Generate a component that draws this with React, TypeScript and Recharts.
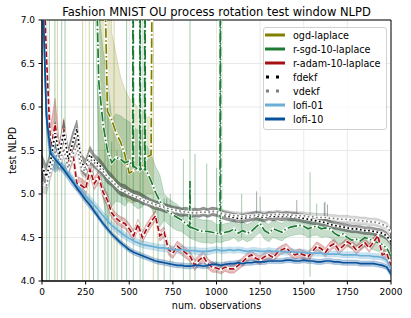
import React from 'react';
import {
  ComposedChart, Line, Area, XAxis, YAxis, CartesianGrid,
  ReferenceLine, ReferenceArea, Legend,
} from 'recharts';

const FONT = '"DejaVu Sans", sans-serif';

// ---------- axes ----------
const xTicks = [0, 250, 500, 750, 1000, 1250, 1500, 1750, 2000];
const yTicks = [4, 4.5, 5, 5.5, 6, 6.5, 7];

// ---------- observation grid (every 25 observations) ----------
const obsGrid = [
  0, 25, 50, 75, 100, 125, 150, 175, 200, 225,
  250, 275, 300, 325, 350, 375, 400, 425, 450, 475,
  500, 525, 550, 575, 600, 625, 650, 675, 700, 725,
  750, 775, 800, 825, 850, 875, 900, 925, 950, 975,
  1000, 1025, 1050, 1075, 1100, 1125, 1150, 1175, 1200, 1225,
  1250, 1275, 1300, 1325, 1350, 1375, 1400, 1425, 1450, 1475,
  1500, 1525, 1550, 1575, 1600, 1625, 1650, 1675, 1700, 1725,
  1750, 1775, 1800, 1825, 1850, 1875, 1900, 1925, 1950, 1975,
  2000,
];

// ---------- series means ----------
const lofi10 = [
  7.6, 5.9, 5.46, 5.4, 5.34, 5.28, 5.21, 5.14, 5.07, 5.0,
  4.93, 4.87, 4.8, 4.73, 4.66, 4.6, 4.54, 4.49, 4.44, 4.4,
  4.36, 4.33, 4.31, 4.29, 4.27, 4.25, 4.23, 4.22, 4.21, 4.2,
  4.19, 4.18, 4.18, 4.17, 4.17, 4.18, 4.18, 4.17, 4.18, 4.19,
  4.19, 4.18, 4.19, 4.2, 4.2, 4.21, 4.2, 4.21, 4.21, 4.22,
  4.22, 4.22, 4.23, 4.23, 4.23, 4.23, 4.24, 4.24, 4.23, 4.23,
  4.24, 4.23, 4.23, 4.22, 4.22, 4.23, 4.23, 4.22, 4.22, 4.21,
  4.21, 4.21, 4.21, 4.2, 4.2, 4.2, 4.2, 4.19, 4.18, 4.16,
  4.08,
];
const lofi01 = [
  7.6, 5.95, 5.5, 5.43, 5.36, 5.3, 5.24, 5.17, 5.1, 5.04,
  4.98, 4.93, 4.87, 4.81, 4.75, 4.69, 4.64, 4.6, 4.56, 4.52,
  4.49, 4.46, 4.44, 4.42, 4.41, 4.4, 4.39, 4.38, 4.38, 4.37,
  4.36, 4.36, 4.36, 4.35, 4.35, 4.35, 4.34, 4.34, 4.34, 4.35,
  4.36, 4.35, 4.35, 4.36, 4.35, 4.36, 4.35, 4.34, 4.35, 4.35,
  4.34, 4.34, 4.35, 4.34, 4.34, 4.34, 4.33, 4.34, 4.33, 4.33,
  4.33, 4.32, 4.32, 4.32, 4.32, 4.31, 4.31, 4.31, 4.31, 4.3,
  4.3, 4.3, 4.3, 4.29, 4.29, 4.29, 4.28, 4.28, 4.27, 4.24,
  4.14,
];
const fdekf = [
  5.32, 5.2, 5.38, 5.7, 5.45, 5.72, 5.4, 5.58, 5.75, 5.36,
  5.3, 5.45, 5.38, 5.34, 5.28, 5.2, 5.16, 5.1, 5.05, 5.04,
  5.01, 4.98, 4.97, 4.94, 4.92, 4.89, 4.87, 4.86, 4.84, 4.83,
  4.81, 4.8, 4.79, 4.8, 4.78, 4.79, 4.78, 4.8, 4.78, 4.8,
  4.79, 4.77, 4.75, 4.74, 4.73, 4.72, 4.72, 4.73, 4.74, 4.75,
  4.74, 4.73, 4.75, 4.74, 4.75, 4.74, 4.75, 4.74, 4.74, 4.73,
  4.72, 4.71, 4.7, 4.69, 4.68, 4.67, 4.65, 4.64, 4.63, 4.62,
  4.61, 4.6, 4.6, 4.59, 4.58, 4.58, 4.57, 4.56, 4.55, 4.52,
  4.45,
];
const vdekf = [
  5.12, 5.1, 5.28, 5.48, 5.35, 5.52, 5.3, 5.45, 5.55, 5.3,
  5.26, 5.4, 5.36, 5.3, 5.26, 5.2, 5.15, 5.1, 5.06, 5.03,
  5.0, 4.98, 4.96, 4.93, 4.91, 4.9, 4.88, 4.86, 4.85, 4.83,
  4.82, 4.81, 4.8, 4.79, 4.79, 4.78, 4.79, 4.79, 4.79, 4.8,
  4.8, 4.78, 4.77, 4.76, 4.75, 4.75, 4.74, 4.75, 4.75, 4.76,
  4.76, 4.75, 4.76, 4.76, 4.77, 4.76, 4.76, 4.76, 4.75, 4.75,
  4.75, 4.74, 4.74, 4.73, 4.73, 4.73, 4.72, 4.72, 4.71, 4.71,
  4.71, 4.7, 4.7, 4.69, 4.69, 4.68, 4.68, 4.67, 4.65, 4.63,
  4.56,
];
const adam = [
  8.0, 6.6, 5.5, 5.8, 5.45, 5.75, 5.35, 5.5, 5.12, 5.1,
  5.06, 5.28, 5.12, 5.2, 5.02, 4.93, 4.78, 4.72, 4.68, 4.66,
  4.6, 4.52, 4.65, 4.5, 4.6, 4.68, 4.75, 4.52, 4.56, 4.36,
  4.32, 4.4, 4.36, 4.32, 4.28, 4.18, 4.24, 4.28, 4.2, 4.16,
  4.15, 4.13, 4.16, 4.14, 4.14, 4.18, 4.22, 4.27, 4.3, 4.26,
  4.24, 4.28, 4.3, 4.27, 4.33, 4.36, 4.38, 4.33, 4.3, 4.32,
  4.3, 4.28, 4.34, 4.4, 4.37, 4.33, 4.4, 4.43, 4.36, 4.4,
  4.45, 4.42, 4.36, 4.4, 4.44, 4.38, 4.45, 4.52, 4.3, 4.32,
  4.18,
];
const sgd = [
  null, null, null, null, null, null, null, null, null, null,
  null, null, 8.5, 6.3, 5.8, 5.5, 5.36, 5.42, 5.4, 5.36,
  5.38, 5.32, 5.28, 5.3, 5.26, 5.15, 5.02, 4.92, 4.85, 4.8,
  4.76, 4.73, 4.7, 4.66, 4.62, 4.6, 4.58, 4.57, 4.57, 4.56,
  4.55, 4.54, 4.56, 4.57, 4.6, 4.55, 4.58, 4.55, 4.57, 4.62,
  4.66, 4.58, 4.55, 4.6, 4.58, 4.56, 4.6, 4.62, 4.63, 4.64,
  4.63, 4.6, 4.62, 4.63, 4.6, 4.61, 4.6, 4.55, 4.52, 4.54,
  4.5, 4.47, 4.48, 4.46, 4.5, 4.48, 4.46, 4.44, 4.42, 4.38,
  4.28,
];

// ---------- band half-widths (one value per 100 observations) ----------
const lofi10Hw = [0.15, 0.05, 0.04, 0.03, 0.03, 0.03, 0.03, 0.03, 0.03, 0.03, 0.03, 0.03, 0.03, 0.03, 0.03, 0.03, 0.03, 0.03, 0.03, 0.03, 0.03];
const lofi01Hw = [0.15, 0.05, 0.05, 0.05, 0.045, 0.04, 0.04, 0.04, 0.04, 0.04, 0.035, 0.035, 0.035, 0.035, 0.035, 0.035, 0.035, 0.035, 0.035, 0.035, 0.035];
const adamHw = [0.3, 0.12, 0.08, 0.07, 0.06, 0.06, 0.06, 0.06, 0.06, 0.06, 0.05, 0.05, 0.05, 0.05, 0.05, 0.05, 0.05, 0.05, 0.05, 0.05, 0.05];
const fdekfHw = [0.13, 0.13, 0.1, 0.08, 0.07, 0.06, 0.05, 0.05, 0.05, 0.05, 0.05, 0.05, 0.05, 0.05, 0.05, 0.05, 0.045, 0.045, 0.045, 0.045, 0.045];
const vdekfHw = [0.1, 0.1, 0.08, 0.07, 0.05, 0.045, 0.045, 0.045, 0.045, 0.045, 0.045, 0.045, 0.045, 0.045, 0.045, 0.045, 0.045, 0.045, 0.045, 0.045, 0.045];
const sgdHw = [0, 0, 0, 0.85, 0.5, 0.45, 0.3, 0.15, 0.13, 0.13, 0.1, 0.1, 0.1, 0.1, 0.1, 0.1, 0.1, 0.1, 0.1, 0.1, 0.1];

// ---------- ogd-laplace (only visible between ~350 and ~635) ----------
const ogdObs = [325, 350, 375, 400, 425, 450, 475, 500, 525, 550, 575, 600, 625, 635];
const ogdMean = [8.5, 8.5, 5.95, 5.85, 5.7, 5.6, 5.45, 5.24, 5.27, 5.3, 5.31, 5.42, 5.45, 9];
const ogdHi = [9, 9, 9, 6.85, 6.6, 6.35, 6.2, 6.1, 6.05, 6.0, 5.95, 5.88, 5.9, 9];
const ogdLo = [5.4, 5.3, 5.2, 5.2, 5.1, 5.0, 4.95, 4.9, 4.9, 4.92, 4.95, 5.0, 5.0, 5.0];

// ---------- r-sgd mean spikes (line shoots off the chart) ----------
const sgdPeakObs = [522, 562, 590, 848, 1022];
const sgdPeakBase = [5.32, 5.28, 5.28, 4.62, 4.54];
const sgdPeakTop = [9, 9, 9, 5.15, 9];

// ---------- band excursions (thin vertical streaks) ----------
const sgdSpikeObs = [27, 42, 74, 113, 132, 295, 321, 361, 378, 399, 430, 457, 485, 523, 562, 579, 665, 700, 735, 810, 848, 877, 944, 1001, 1030, 1144, 1250, 1536, 1574, 1622];
const sgdSpikeLo = [3, 3, 3, 3, 3, 3, 3, 3, 3, 3, 3, 3, 3, 3, 3, 3, 3, 3, 3, 3, 3, 3, 3, 3, 3, 4.5, 4.7, 4.05, 4.74, 4.74];
const sgdSpikeHi = [9, 9, 9, 9, 9, 9, 9, 6.0, 6.0, 5.6, 5.5, 5.6, 9, 9, 9, 9, 5.0, 4.95, 5.0, 5.4, 9, 5.46, 5.35, 5.3, 9, 5.0, 4.97, 5.25, 4.89, 4.91];
const ogdSpikeObs = [88, 233, 271, 413, 638];
const ogdSpikeLo = [3, 3, 3, 3, 3];
const ogdSpikeHi = [9, 9, 9, 9, 9];
const dekfSpikeObs = [715, 1230, 1460, 1618, 1636];
const dekfSpikeLo = [4.78, 4.72, 4.72, 4.7, 4.7];
const dekfSpikeHi = [4.95, 5.03, 4.93, 4.9, 4.88];

const C = {
  ogd: '#808000',
  sgd: '#1e7b34',
  adam: '#a50f15',
  fdekf: '#000000',
  vdekf: '#7f7f7f',
  lofi01: '#6baed6',
  lofi10: '#08519c',
};

const hwAt = (hw: number[], obs: number) => hw[Math.min(hw.length - 1, Math.floor(obs / 100))];
const band = (m: number | null, hw: number[], obs: number) =>
  m == null ? null : [m - hwAt(hw, obs), m + hwAt(hw, obs)];

const rows = obsGrid.map((obs, i) => ({
  obs,
  lofi10: lofi10[i],
  lofi10Band: band(lofi10[i], lofi10Hw, obs),
  lofi01: lofi01[i],
  lofi01Band: band(lofi01[i], lofi01Hw, obs),
  fdekf: fdekf[i],
  fdekfBand: band(fdekf[i], fdekfHw, obs),
  vdekf: vdekf[i],
  vdekfBand: band(vdekf[i], vdekfHw, obs),
  adam: adam[i],
  adamBand: band(adam[i], adamHw, obs),
  sgd: sgd[i],
  sgdBand: band(sgd[i], sgdHw, obs),
}));

const sgdRows = rows.filter((r) => r.sgd != null);
const sgdLineData = [
  ...sgdRows.map((r) => ({ obs: r.obs, v: r.sgd as number })),
  ...sgdPeakObs.flatMap((o, k) => [
    { obs: o - 2, v: sgdPeakBase[k] },
    { obs: o, v: sgdPeakTop[k] },
    { obs: o + 2, v: sgdPeakBase[k] },
  ]),
].sort((a, b) => a.obs - b.obs);

const ogdData = ogdObs.map((obs, i) => ({ obs, mean: ogdMean[i], band: [ogdLo[i], ogdHi[i]] }));

const legendItems = [
  { name: 'ogd-laplace', color: C.ogd, dash: undefined as string | undefined },
  { name: 'r-sgd-10-laplace', color: C.sgd, dash: undefined },
  { name: 'r-adam-10-laplace', color: C.adam, dash: undefined },
  { name: 'fdekf', color: C.fdekf, dash: '3 7' },
  { name: 'vdekf', color: C.vdekf, dash: '3 7' },
  { name: 'lofi-01', color: C.lofi01, dash: undefined },
  { name: 'lofi-10', color: C.lofi10, dash: undefined },
];

function LegendBox() {
  return (
    <svg width={124} height={103} style={{ display: 'block' }}>
      <rect x={0.5} y={0.5} width={123} height={102} rx={2.5} fill="rgba(255,255,255,0.8)" stroke="#d0d0d0" />
      {legendItems.map((it, i) => {
        const y = 8 + i * 14;
        return (
          <g key={it.name}>
            <line x1={it.dash ? 3 : 2} x2={22} y1={y} y2={y} stroke={it.color} strokeWidth={3} strokeDasharray={it.dash} />
            <text x={30} y={y} dominantBaseline="central" fontSize={9.6} fontFamily={FONT} fill="#000">{it.name}</text>
          </g>
        );
      })}
    </svg>
  );
}

const DASHED = '5.5 2.4';
const DASHDOT = '9.6 2.4 1.5 2.4';
const DOTTED = '1.7 2.5';

function lineEls(key: string, dataKey: string, color: string, dash: string | undefined, data?: any[], underlay = true) {
  const common = {
    type: 'linear' as const, dataKey, dot: false, activeDot: false,
    isAnimationActive: false, legendType: 'none' as const, data,
  };
  return [
    underlay ? <Line key={key + '-u'} {...common} stroke="#ffffff" strokeWidth={2.8} /> : null,
    <Line key={key} {...common} stroke={color} strokeWidth={1.7} strokeDasharray={dash} />,
  ];
}

function bandEl(key: string, dataKey: string, color: string, opacity: number, data?: any[]) {
  return (
    <Area key={key} type="linear" dataKey={dataKey} data={data} fill={color} fillOpacity={opacity}
      stroke={color} strokeOpacity={0.35} strokeWidth={0.6} dot={false} activeDot={false}
      isAnimationActive={false} legendType="none" />
  );
}

function spikeEls(prefix: string, obs: number[], lo: number[], hi: number[], color: string, opacity: number) {
  return obs.map((o, k) => (
    <ReferenceLine key={prefix + k} segment={[{ x: o, y: lo[k] }, { x: o, y: hi[k] }]}
      stroke={color} strokeOpacity={opacity} strokeWidth={1} ifOverflow="hidden" />
  ));
}

export default function App() {
  return (
    <div style={{ position: 'relative', width: 411, height: 318, fontFamily: FONT, background: '#fff' }}>
      <style>{'body{margin:0;background:#fff;}'}</style>
      <div style={{ position: 'absolute', left: 0, top: 4, width: 433, textAlign: 'center', fontSize: 11.5, lineHeight: '16px', color: '#000', zIndex: 2 }}>
        Fashion MNIST OU process rotation test window NLPD
      </div>
      <ComposedChart width={411} height={318} data={rows} margin={{ top: 20, right: 20, bottom: 7, left: 0 }}>
        <CartesianGrid stroke="#e4e4e4" strokeWidth={0.8} />
        <XAxis dataKey="obs" type="number" domain={[0, 2000]} ticks={xTicks} allowDataOverflow
          height={30} tickSize={3.5} tickMargin={4.5} interval={0}
          tick={{ fontSize: 9, fill: '#000', fontFamily: FONT }}
          axisLine={{ stroke: '#000' }} tickLine={{ stroke: '#000' }}
          label={{
            content: () => (
              <text x={216.5} y={305} textAnchor="middle" dominantBaseline="central" fontSize={9.6} fontFamily={FONT} fill="#000">num. observations</text>
            ),
          }} />
        <YAxis type="number" domain={[4, 7]} ticks={yTicks} allowDataOverflow width={42}
          tickSize={3.5} tickMargin={3.5} interval={0}
          tickFormatter={(v: number) => v.toFixed(1)}
          tick={{ fontSize: 9, fill: '#000', fontFamily: FONT }}
          axisLine={{ stroke: '#000' }} tickLine={{ stroke: '#000' }}
          label={{
            content: () => (
              <text x={12} y={150.5} transform="rotate(-90, 12, 150.5)" textAnchor="middle" dominantBaseline="central" fontSize={9.6} fontFamily={FONT} fill="#000">test NLPD</text>
            ),
          }} />

        {spikeEls('os', ogdSpikeObs, ogdSpikeLo, ogdSpikeHi, C.ogd, 0.35)}
        {spikeEls('ss', sgdSpikeObs, sgdSpikeLo, sgdSpikeHi, C.sgd, 0.4)}
        {spikeEls('ds', dekfSpikeObs, dekfSpikeLo, dekfSpikeHi, '#555555', 0.5)}

        {bandEl('ogdB', 'band', C.ogd, 0.2, ogdData)}
        {lineEls('ogd', 'mean', C.ogd, DASHDOT, ogdData)}

        {bandEl('sgdB', 'sgdBand', C.sgd, 0.25, sgdRows)}
        {lineEls('sgd', 'v', C.sgd, DASHDOT, sgdLineData)}

        {bandEl('adamB', 'adamBand', C.adam, 0.28)}
        {lineEls('adam', 'adam', C.adam, DASHED)}

        {bandEl('fdekfB', 'fdekfBand', '#000000', 0.38)}
        {lineEls('fdekf', 'fdekf', C.fdekf, DOTTED)}

        {bandEl('vdekfB', 'vdekfBand', C.vdekf, 0.3)}
        {lineEls('vdekf', 'vdekf', C.vdekf, DOTTED)}

        {bandEl('lofi01B', 'lofi01Band', C.lofi01, 0.35)}
        {lineEls('lofi01', 'lofi01', C.lofi01, undefined, undefined, false)}

        {bandEl('lofi10B', 'lofi10Band', C.lofi10, 0.3)}
        {lineEls('lofi10', 'lofi10', C.lofi10, undefined, undefined, false)}

        <ReferenceArea x1={0} x2={2000} y1={4} y2={7} fill="none" fillOpacity={0} stroke="#000" strokeWidth={1} />
        <Legend layout="vertical" align="center" verticalAlign="middle" content={() => <LegendBox />}
          wrapperStyle={{ position: 'absolute', left: 263, top: 27, width: 124, height: 103 }} />
      </ComposedChart>
    </div>
  );
}
